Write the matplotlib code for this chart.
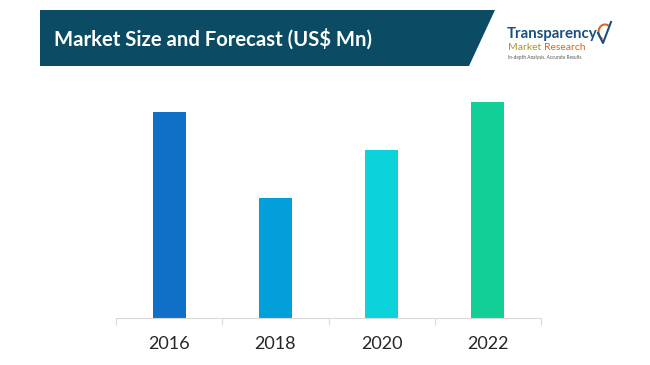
import matplotlib.pyplot as plt
import matplotlib.patches as mpatches

years = ["2016", "2018", "2020", "2022"]
values = [206, 120, 168, 216]
colors = ["#106FC7", "#039FDA", "#0CD3DA", "#12CF98"]

plt.rcParams['font.family'] = ['Lato', 'DejaVu Sans']

fig = plt.figure(figsize=(6.5, 3.65), dpi=100)
W, H = 650, 365

# banner in pixel coordinates
bg = fig.add_axes([0, 0, 1, 1])
bg.set_xlim(0, W)
bg.set_ylim(H, 0)
bg.axis("off")
banner = mpatches.Polygon([(40, 10), (495, 10), (469, 66), (40, 66)],
                          closed=True, facecolor="#0B4B64", edgecolor="none")
bg.add_patch(banner)
bg.text(54, 39, "Market Size and Forecast (US$ Mn)", color="white",
        fontsize=14.6, fontweight="bold", va="center", ha="left")

# logo
bg.text(507, 34, "Transparency", color="#1B4F7C", fontsize=10.8,
        fontweight="bold", va="center", ha="left")
bg.text(508, 47, "Market", color="#A6982A", fontsize=7.5, va="center", ha="left")
bg.text(544, 47, "Research", color="#E0651C", fontsize=7.5, va="center", ha="left")
bg.text(508, 57, "In-depth Analysis. Accurate Results", color="#555555",
        fontsize=3.4, va="center", ha="left")
bg.plot([598, 603, 611], [33, 43, 22], color="#1B4F7C", lw=1.5)
bg.add_patch(mpatches.Arc((605, 32), 13, 15, theta1=110, theta2=300,
                          color="#E0651C", lw=1.5))

# bar chart
ax = fig.add_axes([116 / W, (H - 318) / H, (541 - 116) / W, (318 - 80) / H])
x = range(len(years))
ax.bar(x, values, width=0.31, color=colors)
ax.set_xlim(-0.5, len(years) - 0.5)
ax.set_ylim(0, 238)
ax.set_yticks([])
for s in ["top", "right", "left"]:
    ax.spines[s].set_visible(False)
ax.spines["bottom"].set_color("#D9D9D9")
ax.set_xticks([i - 0.5 for i in range(len(years) + 1)], minor=False)
ax.set_xticklabels([])
ax.tick_params(axis="x", length=5, color="#D9D9D9")
for i, yr in enumerate(years):
    ax.text(i, -26, yr, ha="center", va="center", fontsize=13,
            color="#262626", transform=ax.transData, clip_on=False)

fig.savefig("out.png", dpi=100)
